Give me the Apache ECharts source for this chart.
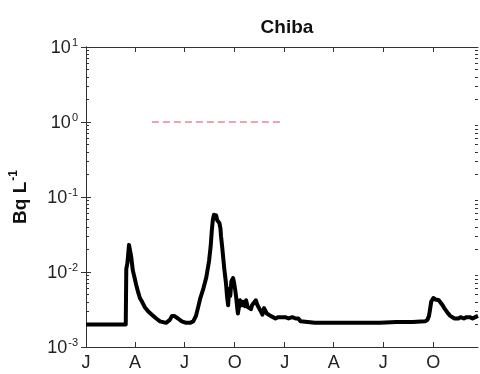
<!DOCTYPE html>
<html>
<head>
<meta charset="utf-8">
<script src="https://cdn.jsdelivr.net/npm/echarts@6/dist/echarts.min.js"></script>
<style>
  html, body { margin: 0; padding: 0; background: #fff; }
  #chart { width: 480px; height: 374px; }
</style>
</head>
<body>
<div id="chart"></div>
<script>
// days counted from 1 Jan of the first year
const tickDays = [0, 90, 181, 273, 365, 455, 546, 638]
const tickLabels = ['J', 'A', 'J', 'O', 'J', 'A', 'J', 'O']
const minorValues = [0.002, 0.003, 0.004, 0.005, 0.006, 0.007, 0.008, 0.009,
  0.02, 0.03, 0.04, 0.05, 0.06, 0.07, 0.08, 0.09,
  0.2, 0.3, 0.4, 0.5, 0.6, 0.7, 0.8, 0.9,
  2, 3, 4, 5, 6, 7, 8, 9]

// Chiba concentration (Bq/L)
const days = [0, 73, 74, 76, 78, 79, 80, 81, 83, 86, 89, 92, 96, 99, 103, 108, 114, 121, 129, 136, 147, 154, 158, 162, 169, 176, 184, 191, 197, 202,
  206, 210, 215, 221, 226, 229, 231, 233, 235, 237, 239, 241, 243, 245, 247, 248, 250, 254, 257, 259, 261, 263, 265, 267, 270, 272, 274, 276, 278, 279,
  283, 286, 289, 292, 294, 297, 300, 303, 305, 308, 312, 315, 318, 321, 324, 327, 329, 332, 335, 339, 342, 348, 353, 360, 366, 372, 379, 385,
  390, 394, 397, 420, 450, 480, 510, 540, 570, 600, 623, 627, 630, 632, 634, 638, 642, 645, 648, 651, 655, 658, 662, 665, 669, 673, 677, 680, 684,
  688, 694, 699, 705, 710, 715, 720]
const values = [0.002, 0.002, 0.011, 0.013, 0.019, 0.023, 0.021, 0.020, 0.016, 0.0105, 0.0085, 0.0068, 0.0053, 0.0045, 0.0040, 0.0034, 0.0030, 0.0027, 0.0024, 0.0022, 0.0021, 0.0023, 0.0026, 0.0026, 0.0024, 0.0022, 0.0021, 0.0021, 0.0022, 0.0026,
  0.0034, 0.0045, 0.0058, 0.0085, 0.014, 0.022, 0.035, 0.05, 0.058, 0.052, 0.057, 0.049, 0.052, 0.045, 0.038, 0.030, 0.022, 0.011, 0.0072, 0.0048, 0.0036, 0.0060, 0.0048, 0.0075, 0.0083, 0.0072, 0.0058, 0.0045, 0.0032, 0.0028,
  0.0042, 0.0036, 0.0040, 0.0035, 0.0042, 0.0034, 0.0036, 0.0032, 0.0036, 0.0034, 0.0042, 0.0036, 0.0037, 0.0030, 0.0027, 0.0033, 0.0031, 0.0028, 0.0029, 0.0026, 0.0026, 0.0024, 0.0025, 0.0025, 0.0025, 0.0024, 0.0025, 0.0024,
  0.0024, 0.0022, 0.0021, 0.0021, 0.0021, 0.0021, 0.0021, 0.0021, 0.00215, 0.00215, 0.0022, 0.0023, 0.0026, 0.0032, 0.0040, 0.0045, 0.0043, 0.0045, 0.0042, 0.0040, 0.0036, 0.0033, 0.0030, 0.0028, 0.0026, 0.0025, 0.0024, 0.0023, 0.0024,
  0.0025, 0.0024, 0.0025, 0.0025, 0.0024, 0.0025, 0.0026]

// dashed reference level
const limitDays = [121, 362]
const limitValue = 1

const chart = echarts.init(document.getElementById('chart'))

const font = 'Liberation Sans, Arial, sans-serif'
const axisColor = '#333'

function yLabel (v) {
  const e = Math.round(Math.log10(v))
  return '{b|10}{s|' + e + '}'
}

const yCommon = {
  type: 'log',
  logBase: 10,
  min: 0.001,
  max: 10,
  axisLine: { show: true, lineStyle: { color: axisColor, width: 1 } },
  splitLine: { show: false }
}

const option = {
  animation: false,
  title: {
    text: 'Chiba',
    left: 282,
    top: 13,
    textAlign: 'center',
    textStyle: { fontFamily: font, fontSize: 19, fontWeight: 'bold', color: '#111' }
  },
  grid: { left: 86, right: 2, top: 47, bottom: 27, containLabel: false },
  xAxis: [
    {
      type: 'value',
      min: 0,
      max: 720,
      axisLine: { show: true, onZero: false, lineStyle: { color: axisColor, width: 1 } },
      axisTick: { show: true, inside: true, length: 5, customValues: tickDays, lineStyle: { color: axisColor } },
      axisLabel: {
        customValues: tickDays,
        margin: 7,
        fontFamily: font,
        fontSize: 18,
        color: '#222',
        formatter: function (v) {
          const i = tickDays.indexOf(v)
          return i >= 0 ? tickLabels[i] : ''
        }
      },
      splitLine: { show: false }
    },
    {
      type: 'value',
      position: 'top',
      min: 0,
      max: 720,
      axisLine: { show: true, onZero: false, lineStyle: { color: axisColor, width: 1 } },
      axisTick: { show: true, inside: true, length: 5, customValues: tickDays, lineStyle: { color: axisColor } },
      axisLabel: { show: false },
      splitLine: { show: false }
    }
  ],
  yAxis: [
    Object.assign({}, yCommon, {
      position: 'left',
      name: '{a|Bq L}{s|-1}',
      nameLocation: 'middle',
      nameGap: 56,
      nameRotate: 90,
      nameTextStyle: {
        rich: {
          a: { fontFamily: font, fontSize: 19, fontWeight: 'bold', color: '#111', lineHeight: 22, verticalAlign: 'bottom' },
          s: { fontFamily: font, fontSize: 12, fontWeight: 'bold', color: '#111', lineHeight: 22, verticalAlign: 'top', padding: [0, 0, 8, 1] }
        }
      },
      axisTick: { show: true, inside: true, length: 5, lineStyle: { color: axisColor } },
      axisLabel: {
        margin: 8,
        formatter: yLabel,
        rich: {
          b: { fontFamily: font, fontSize: 18, color: '#222', lineHeight: 20, verticalAlign: 'bottom' },
          s: { fontFamily: font, fontSize: 11, color: '#222', lineHeight: 20, verticalAlign: 'top', padding: [0, 0, 9, 1] }
        }
      }
    }),
    Object.assign({}, yCommon, {
      position: 'right',
      axisTick: { show: true, inside: true, length: 5, lineStyle: { color: axisColor } },
      axisLabel: { show: false }
    }),
    Object.assign({}, yCommon, {
      position: 'left',
      axisLine: { show: false },
      axisTick: { show: true, inside: true, length: 3, customValues: minorValues, lineStyle: { color: axisColor } },
      axisLabel: { show: false }
    }),
    Object.assign({}, yCommon, {
      position: 'right',
      axisLine: { show: false },
      axisTick: { show: true, inside: true, length: 3, customValues: minorValues, lineStyle: { color: axisColor } },
      axisLabel: { show: false }
    })
  ],
  series: [
    {
      type: 'line',
      name: 'limit',
      data: limitDays.map(d => [d, limitValue]),
      showSymbol: false,
      lineStyle: { color: '#e0485f', width: 1.2, type: [7, 4] },
      z: 2
    },
    {
      type: 'line',
      name: 'Chiba',
      data: days.map((d, i) => [d, values[i]]),
      showSymbol: false,
      lineStyle: { color: '#000', width: 4, join: 'round' },
      z: 3
    }
  ]
}

chart.setOption(option)
</script>
</body>
</html>
